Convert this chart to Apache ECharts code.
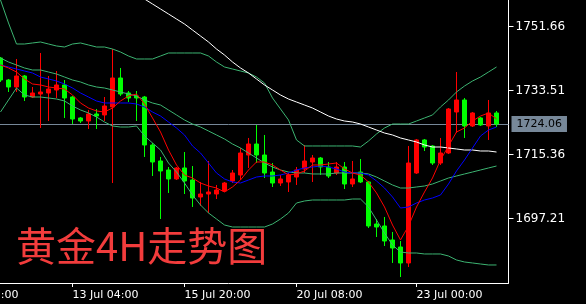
<!DOCTYPE html>
<html>
<head>
<meta charset="utf-8">
<style>
  html, body { margin: 0; padding: 0; background: #000; overflow: hidden; }
  /* 图表向左多伸出 52px，让最左侧被截断的K线和时间标签落在可视区外 */
  #chart { position: absolute; left: -52px; top: 0; width: 638px; height: 304px; }
</style>
<script src="https://cdn.jsdelivr.net/npm/echarts@6/dist/echarts.min.js"></script>
</head>
<body>
<div id="chart"></div>
<script>
// 黄金 4H K线，MT4 风格（红涨绿跌）

// [open, close, low, high]
const candles = [
  [1742.78, 1736.54, 1735.98, 1743.07],
  [1736.54, 1734.56, 1733.14, 1736.83],
  [1734.56, 1737.68, 1733.14, 1742.50],
  [1737.68, 1731.72, 1730.59, 1737.96],
  [1731.72, 1732.86, 1731.44, 1734.56],
  [1732.57, 1733.14, 1722.93, 1744.20],
  [1732.86, 1733.99, 1724.91, 1737.68],
  [1733.71, 1735.13, 1731.44, 1739.09],
  [1735.13, 1731.44, 1725.77, 1736.54],
  [1731.72, 1725.48, 1724.06, 1732.01],
  [1725.77, 1724.91, 1724.35, 1726.05],
  [1724.91, 1726.90, 1722.65, 1728.04],
  [1726.90, 1726.33, 1722.65, 1728.32],
  [1726.62, 1729.17, 1724.91, 1731.72],
  [1728.89, 1737.11, 1707.33, 1745.33],
  [1737.11, 1732.57, 1732.01, 1739.95],
  [1732.86, 1731.44, 1730.30, 1733.42],
  [1732.01, 1731.44, 1724.91, 1733.42],
  [1731.72, 1718.11, 1714.71, 1732.01],
  [1718.11, 1713.29, 1709.32, 1718.68],
  [1713.57, 1710.74, 1697.12, 1714.71],
  [1711.02, 1708.47, 1704.50, 1711.87],
  [1708.47, 1711.59, 1708.18, 1711.87],
  [1711.59, 1707.90, 1704.21, 1716.12],
  [1708.18, 1703.08, 1700.53, 1712.15],
  [1703.36, 1704.21, 1700.81, 1707.62],
  [1704.21, 1704.78, 1698.83, 1713.57],
  [1704.21, 1705.35, 1702.79, 1706.77],
  [1705.06, 1707.33, 1704.78, 1707.62],
  [1707.90, 1710.17, 1707.33, 1711.02],
  [1709.60, 1715.84, 1708.18, 1717.26],
  [1715.27, 1718.39, 1711.59, 1720.10],
  [1718.39, 1715.27, 1713.00, 1723.78],
  [1715.27, 1710.17, 1708.75, 1720.95],
  [1710.45, 1707.33, 1706.20, 1713.00],
  [1707.33, 1708.47, 1706.48, 1709.60],
  [1707.62, 1709.60, 1704.78, 1710.17],
  [1709.03, 1711.02, 1706.77, 1711.87],
  [1711.30, 1713.57, 1710.17, 1718.11],
  [1713.29, 1714.42, 1707.62, 1715.27],
  [1714.42, 1711.87, 1709.60, 1714.71],
  [1711.87, 1709.32, 1708.75, 1713.29],
  [1710.17, 1711.87, 1709.60, 1713.29],
  [1711.87, 1707.05, 1705.63, 1713.29],
  [1707.05, 1708.47, 1706.20, 1713.57],
  [1710.45, 1707.62, 1707.33, 1714.14],
  [1707.62, 1695.14, 1694.57, 1707.90],
  [1695.70, 1694.85, 1692.02, 1697.12],
  [1695.14, 1690.88, 1689.47, 1697.69],
  [1691.17, 1688.90, 1684.65, 1693.44],
  [1689.18, 1684.65, 1680.67, 1690.88],
  [1684.65, 1713.00, 1683.51, 1717.83],
  [1710.17, 1719.53, 1709.89, 1719.81],
  [1719.53, 1717.54, 1716.41, 1719.81],
  [1717.83, 1713.00, 1712.44, 1718.11],
  [1713.00, 1715.84, 1712.44, 1720.10],
  [1715.84, 1728.32, 1715.56, 1728.60],
  [1727.47, 1730.87, 1721.51, 1738.81],
  [1730.87, 1723.50, 1720.10, 1731.44],
  [1723.50, 1727.19, 1723.21, 1727.47],
  [1725.77, 1723.78, 1723.50, 1726.05],
  [1723.50, 1727.19, 1719.53, 1730.87],
  [1727.19, 1724.06, 1723.21, 1727.75]
]

// 红线 MA5
const ma5 = [
  1740.80, 1739.95, 1738.81, 1736.83, 1735.41, 1735.13, 1734.56, 1734.27, 1733.99, 1732.29,
  1730.02, 1728.60, 1727.75, 1727.47, 1728.60, 1730.59, 1732.01, 1732.57, 1729.74, 1725.77,
  1721.80, 1716.69, 1712.44, 1709.60, 1708.75, 1707.33, 1706.48, 1705.91, 1704.78, 1706.20,
  1708.18, 1711.02, 1713.29, 1713.29, 1712.44, 1711.02, 1709.60, 1709.89, 1710.74, 1712.44,
  1712.44, 1712.72, 1713.00, 1711.30, 1710.17, 1709.60, 1707.62, 1704.50, 1700.53, 1695.42,
  1691.17, 1695.14, 1700.53, 1704.78, 1708.75, 1713.86, 1717.83, 1721.80, 1722.93, 1724.91,
  1726.33, 1727.19, 1725.48
]

// 蓝线 MA10
const ma10 = [
  1740.80, 1740.23, 1739.66, 1739.09, 1738.53, 1737.39, 1736.83, 1736.26, 1735.41, 1734.27,
  1732.86, 1731.72, 1730.59, 1730.02, 1730.02, 1730.02, 1730.02, 1729.74, 1728.89, 1727.47,
  1726.33, 1724.63, 1722.93, 1720.95, 1717.83, 1715.84, 1713.00, 1710.17, 1708.47, 1707.62,
  1707.33, 1708.18, 1709.03, 1709.32, 1709.32, 1709.60, 1710.17, 1711.02, 1711.59, 1711.87,
  1712.15, 1711.87, 1711.30, 1710.45, 1710.17, 1710.17, 1709.60, 1707.90, 1705.91, 1703.36,
  1700.24, 1700.53, 1701.66, 1702.51, 1703.08, 1703.93, 1707.05, 1710.74, 1713.86, 1717.26,
  1720.66, 1722.36, 1723.21
]

// 白线 长周期均线（前段在图外）
const maLong = [
  null, null, null, null, null, null, null, null, null, null,
  null, null, null, null, null, null, null, 1761.22, 1759.51, 1758.10,
  1756.68, 1755.26, 1753.84, 1752.42, 1750.72, 1749.02, 1747.32, 1745.33, 1743.63, 1741.65,
  1739.95, 1738.53, 1736.83, 1735.13, 1733.71, 1732.29, 1731.15, 1730.30, 1729.45, 1728.60,
  1727.47, 1726.33, 1725.48, 1724.91, 1724.63, 1724.06, 1723.21, 1722.36, 1721.51, 1720.95,
  1720.10, 1719.53, 1718.96, 1718.11, 1717.54, 1717.54, 1717.26, 1716.98, 1716.69, 1716.69,
  1716.41, 1716.41, 1716.12
]

// 布林带 上轨 / 中轨 / 下轨
const bollUpper = [
  1759.23, 1752.71, 1746.75, 1746.75, 1747.04, 1747.32, 1746.75, 1746.19, 1745.90, 1746.75,
  1747.04, 1746.47, 1745.90, 1745.90, 1745.33, 1744.48, 1743.35, 1742.50, 1742.50, 1742.50,
  1743.35, 1744.20, 1744.20, 1744.20, 1744.20, 1744.20, 1743.35, 1741.65, 1740.23, 1739.66,
  1739.09, 1738.53, 1737.39, 1735.69, 1731.44, 1728.32, 1725.20, 1719.53, 1717.83, 1717.83,
  1717.83, 1717.83, 1717.83, 1717.83, 1717.83, 1717.54, 1719.24, 1721.23, 1722.93, 1724.06,
  1724.06, 1724.06, 1724.91, 1725.77, 1726.62, 1728.89, 1730.87, 1733.14, 1734.84, 1736.26,
  1737.39, 1738.81, 1740.23
]
const bollMid = [
  1742.78, 1741.65, 1740.80, 1739.95, 1739.38, 1739.38, 1738.81, 1738.24, 1737.39, 1736.54,
  1735.98, 1735.13, 1734.56, 1734.27, 1733.71, 1733.14, 1732.57, 1732.01, 1730.87, 1730.02,
  1729.45, 1728.04, 1726.62, 1725.20, 1724.06, 1723.21, 1722.08, 1720.95, 1719.81, 1718.39,
  1717.26, 1715.84, 1714.42, 1713.00, 1711.87, 1711.02, 1710.45, 1710.17, 1710.17, 1709.89,
  1709.89, 1709.89, 1710.17, 1710.17, 1710.17, 1710.17, 1709.89, 1709.03, 1707.90, 1706.77,
  1705.91, 1705.91, 1706.20, 1706.48, 1707.05, 1707.90, 1708.75, 1709.32, 1709.89, 1710.45,
  1711.02, 1711.59, 1712.15
]
const bollLower = [
  1727.47, 1730.87, 1734.27, 1732.29, 1731.72, 1731.72, 1731.44, 1731.15, 1730.59, 1729.17,
  1728.04, 1727.19, 1726.05, 1724.63, 1723.50, 1723.21, 1723.21, 1723.50, 1720.66, 1718.68,
  1716.69, 1713.00, 1710.45, 1707.33, 1703.93, 1701.09, 1698.83, 1697.12, 1695.42, 1694.85,
  1694.85, 1694.85, 1694.85, 1694.85, 1695.70, 1697.12, 1698.83, 1701.66, 1702.23, 1702.51,
  1702.51, 1702.51, 1702.51, 1702.51, 1702.79, 1702.79, 1700.53, 1696.84, 1693.15, 1689.75,
  1687.76, 1687.48, 1687.48, 1687.20, 1687.20, 1687.20, 1686.63, 1685.50, 1684.93, 1684.65,
  1684.36, 1684.08, 1684.08
]

// 时间轴刻度：所在K线序号（负数为图左侧之外）
const tickBars = [-6, 9, 23, 37, 52]
const tickLabels = ['10 Jul 12:00', '13 Jul 04:00', '15 Jul 20:00', '20 Jul 08:00', '23 Jul 00:00']

// 价格轴刻度
const priceTicks = [1697.21, 1715.36, 1733.51, 1751.66]
const priceMin = 1678.97
const priceMax = 1759.23

const title = '黄金4H走势图'

// 左侧留出空位，让被截断的时间标签能显示；右侧多留一格
const PAD = 6
const SHIFT = 52 // 与 #chart 的 left 对应
const slotCount = PAD + candles.length + 1
const categories = Array.from({ length: slotCount }, (_, i) => String(i - PAD))
const labelAt = {}
tickBars.forEach((b, i) => { labelAt[b + PAD] = tickLabels[i] })
const isLabel = (idx) => labelAt[idx] !== undefined

const toLine = (arr) => arr.map((v, i) => [i + PAD, v]).filter(p => p[1] !== null)
const lastPrice = candles[candles.length - 1][1]

const lineSeries = (name, data, color) => ({
  name,
  type: 'line',
  data: toLine(data),
  symbol: 'none',
  z: 3,
  lineStyle: { color, width: 1 },
  emphasis: { disabled: true },
})

const chart = echarts.init(document.getElementById('chart'))
chart.setOption({
  backgroundColor: '#000',
  animation: false,
  grid: { left: 0.5, right: 77.5, top: 0, bottom: 21 },
  xAxis: {
    type: 'category',
    data: categories,
    boundaryGap: true,
    axisLine: { lineStyle: { color: '#fff', width: 1 } },
    axisTick: {
      show: true,
      alignWithLabel: true,
      interval: (idx) => isLabel(idx),
      length: 4,
      lineStyle: { color: '#fff' },
    },
    axisLabel: {
      interval: (idx) => isLabel(idx),
      formatter: (v, idx) => labelAt[idx] || '',
      align: 'left',
      margin: 7,
      color: '#fff',
      fontFamily: 'DejaVu Sans',
      fontSize: 11,
    },
    splitLine: { show: false },
  },
  yAxis: {
    type: 'value',
    position: 'right',
    min: priceMin,
    max: priceMax,
    axisLine: { show: true, lineStyle: { color: '#fff', width: 1 } },
    axisTick: {
      show: true,
      customValues: priceTicks,
      length: 5,
      lineStyle: { color: '#fff' },
    },
    axisLabel: {
      customValues: priceTicks,
      formatter: (v) => v.toFixed(2),
      margin: 7,
      color: '#fff',
      fontFamily: 'DejaVu Sans',
      fontSize: 12,
    },
    splitLine: { show: false },
  },
  graphic: [
    {
      type: 'text',
      x: 16 + SHIFT,
      y: 246,
      z: 10,
      style: {
        text: title,
        font: '40px "Noto Sans CJK SC"',
        fill: '#f23c3c',
        textVerticalAlign: 'middle',
      },
    },
  ],
  series: [
    {
      name: 'K',
      type: 'candlestick',
      data: candles.map((c, i) => [i + PAD, ...c]),
      encode: { x: 0, y: [1, 2, 3, 4] },
      barWidth: 4,
      z: 2,
      itemStyle: {
        color: '#ff0000',
        color0: '#00ff00',
        borderColor: '#ff0000',
        borderColor0: '#00ff00',
        borderWidth: 1,
      },
      emphasis: { disabled: true },
      markLine: {
        z: 1,
        silent: true,
        symbol: 'none',
        lineStyle: { color: '#778899', width: 1, type: 'solid' },
        label: {
          position: 'end',
          distance: 3,
          formatter: () => lastPrice.toFixed(2),
          color: '#000',
          backgroundColor: '#778899',
          padding: [3, 5, 2, 5],
          fontFamily: 'DejaVu Sans',
          fontSize: 11,
        },
        data: [{ yAxis: lastPrice }],
      },
    },
    lineSeries('BOLL上轨', bollUpper, '#3cb371'),
    lineSeries('BOLL中轨', bollMid, '#3cb371'),
    lineSeries('BOLL下轨', bollLower, '#3cb371'),
    lineSeries('长均线', maLong, '#ffffff'),
    lineSeries('MA10', ma10, '#0000ff'),
    lineSeries('MA5', ma5, '#ff0000'),
  ],
})
</script>
</body>
</html>
